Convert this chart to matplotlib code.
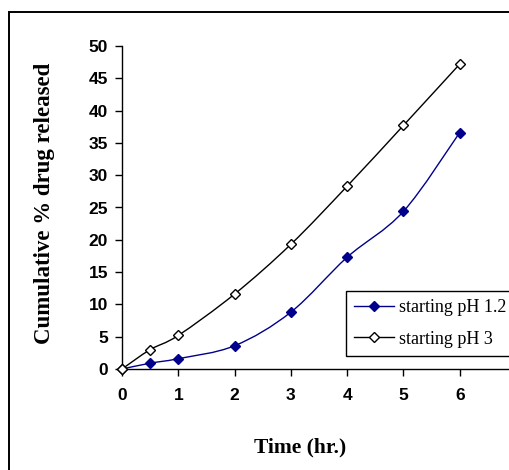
import matplotlib
matplotlib.use("Agg")
import matplotlib.pyplot as plt
from matplotlib.patches import Rectangle, PathPatch
from matplotlib.path import Path
from matplotlib.lines import Line2D

time_hr = [0, 0.5, 1, 2, 3, 4, 5, 6]
ph12 = [0, 0.9, 1.6, 3.6, 8.8, 17.3, 24.4, 36.6]
ph3 = [0, 3.0, 5.2, 11.6, 19.3, 28.3, 37.7, 47.2]
x_ticks = [0, 1, 2, 3, 4, 5, 6]
y_ticks = [0, 5, 10, 15, 20, 25, 30, 35, 40, 45, 50]
labels = ["starting pH 1.2", "starting pH 3"]

W, H = 510, 470
fig = plt.figure(figsize=(W / 100, H / 100), dpi=100)
fig.patches.append(Rectangle((9 / W, -0.1), 1.2, 1.1 - 12 / H, transform=fig.transFigure,
                             fill=False, edgecolor="black", linewidth=1.4))

ax = fig.add_axes([122 / W, (H - 369) / H, (516 - 122) / W, (369 - 46) / H])


def smooth_path(xs, ys):
    pts = list(zip(xs, ys))
    n = len(pts)
    verts = [pts[0]]
    codes = [Path.MOVETO]
    for i in range(n - 1):
        p0 = pts[i - 1] if i > 0 else pts[i]
        p1 = pts[i]
        p2 = pts[i + 1]
        p3 = pts[i + 2] if i + 2 < n else pts[i + 1]
        c1 = (p1[0] + (p2[0] - p0[0]) / 6, p1[1] + (p2[1] - p0[1]) / 6)
        c2 = (p2[0] - (p3[0] - p1[0]) / 6, p2[1] - (p3[1] - p1[1]) / 6)
        verts += [c1, c2, p2]
        codes += [Path.CURVE4] * 3
    return Path(verts, codes)


series = [(ph12, "#00008B", "#00008B"), (ph3, "black", "white")]
handles = []
for (vals, col, face), lab in zip(series, labels):
    ax.add_patch(PathPatch(smooth_path(time_hr, vals), fill=False, edgecolor=col,
                           linewidth=1.0, clip_on=False))
    ax.plot(time_hr, vals, linestyle="none", marker="D", markersize=5,
            markerfacecolor=face, markeredgecolor=col, markeredgewidth=1.0,
            clip_on=False, zorder=3)
    handles.append(Line2D([], [], color=col, linewidth=1.0, marker="D", markersize=5,
                          markerfacecolor=face, markeredgecolor=col, label=lab))

ax.set_xlim(0, 7)
ax.set_ylim(0, 50)
ax.set_xticks(x_ticks)
ax.set_yticks(y_ticks)
for s in ["top", "right"]:
    ax.spines[s].set_visible(False)
for s in ["left", "bottom"]:
    ax.spines[s].set_linewidth(1.0)
ax.tick_params(direction="out", length=5, width=1.0, pad=5)
for lab in ax.get_xticklabels() + ax.get_yticklabels():
    lab.set_fontfamily("Liberation Sans")
    lab.set_fontweight("bold")
    lab.set_fontsize(12.5)
ax.tick_params(axis="x", pad=9)

fig.text(300 / W, 1 - 447 / H, "Time (hr.)", ha="center", va="center",
         fontfamily="Liberation Serif", fontweight="bold", fontsize=15.5)
fig.text(45 / W, 1 - 203 / H, "Cumulative % drug released", ha="center", va="center",
         rotation=90, fontfamily="Liberation Serif", fontweight="bold", fontsize=16.5)

leg = ax.legend(handles=handles, loc="upper left",
                bbox_to_anchor=((346 - 122) / (516 - 122), (369 - 291) / (369 - 46)),
                frameon=True, fancybox=False, framealpha=1, edgecolor="black",
                prop={"family": "Liberation Serif", "size": 13}, handlelength=2.2,
                borderpad=0.45, labelspacing=0.8, handletextpad=0.3, borderaxespad=0)
leg.get_frame().set_linewidth(1.0)

fig.savefig("out.png", dpi=100)
